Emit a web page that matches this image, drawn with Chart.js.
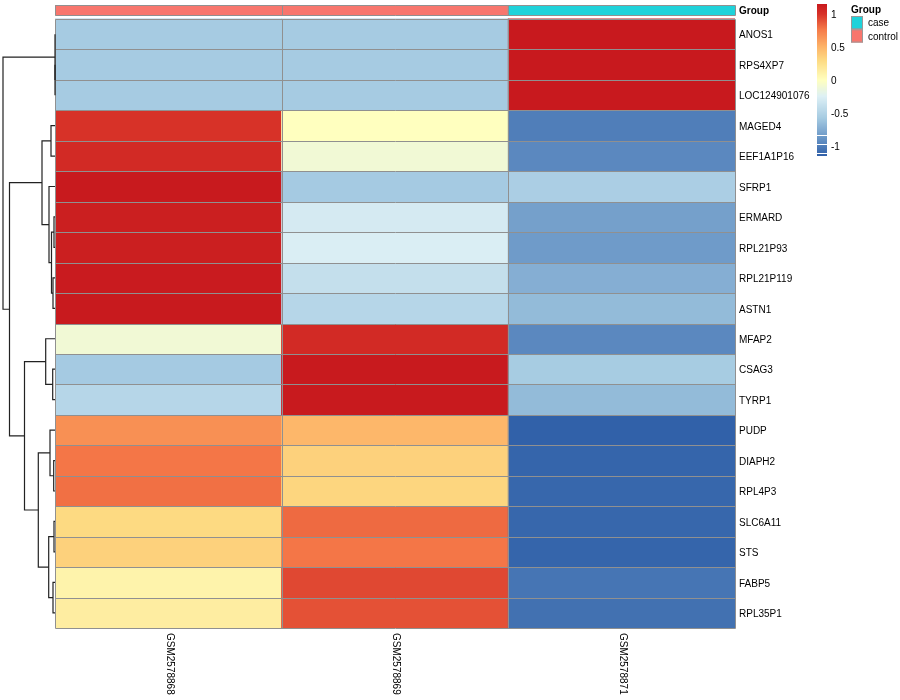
<!DOCTYPE html>
<html><head><meta charset="utf-8">
<script src="https://cdn.jsdelivr.net/npm/chart.js@4"></script>
<style>html,body{margin:0;padding:0;background:#fff}</style>
</head><body>
<canvas id="c" width="900" height="700"></canvas>
<script>
// ---------- data ----------
const genes = ['ANOS1','RPS4XP7','LOC124901076','MAGED4','EEF1A1P16','SFRP1','ERMARD','RPL21P93','RPL21P119','ASTN1','MFAP2','CSAG3','TYRP1','PUDP','DIAPH2','RPL4P3','SLC6A11','STS','FABP5','RPL35P1'];
const samples = ['GSM2578868','GSM2578869','GSM2578871'];
const sampleGroups = ['control','control','case'];
const groupLevels = ['case','control'];
const valsGSM2578868 = [-0.577,-0.577,-0.577, 1.00, 1.05, 1.15, 1.12, 1.12, 1.14, 1.15, -0.10,-0.58,-0.48, 0.665,0.78,0.80, 0.30,0.35, 0.10,0.15];
const valsGSM2578869 = [-0.577,-0.577,-0.577, 0.00,-0.10,-0.58,-0.30,-0.27,-0.40,-0.48, 1.05, 1.15, 1.15, 0.485,0.35,0.32, 0.82,0.78, 0.93,0.90];
const valsGSM2578871 = [ 1.155, 1.155, 1.155,-1.00,-0.95,-0.55,-0.82,-0.85,-0.74,-0.67,-0.95,-0.57,-0.67,-1.15,-1.13,-1.12,-1.12,-1.13,-1.05,-1.07];
const legendTicks = [1, 0.5, 0, -0.5, -1];
// hclust-style merges: negative = leaf (1-based row), positive = earlier merge (1-based); third = height
const dendroMerges = [
  [-2,-3,0],[-1,1,0],[-4,-5,4],[-7,-8,1],[-9,-10,2],[4,5,3.5],[-6,6,6],[3,7,13],
  [-12,-13,2.3],[-11,9,9.3],[-15,-16,1.3],[-14,11,5],[-17,-18,1],[-19,-20,2],
  [13,14,6.3],[12,15,16.7],[10,16,30.5],[8,17,45.5],[2,18,52]
];
const colorMin = -1.155, colorMax = 1.155;

// ---------- styles ----------
const colorStops = [
  [-1.155,[48,96,168]],[-0.9,[101,146,196]],[-0.577,[166,203,226]],[-0.25,[221,240,245]],
  [0,[255,255,191]],[0.3,[253,218,130]],[0.5,[253,180,104]],[0.77,[245,121,72]],
  [1.0,[215,50,40]],[1.155,[200,25,30]]
];
const groupColors = {control:'#F8766D', case:'#1FD2DA'};
function valColor(v){
  if (v <= colorStops[0][0]) return 'rgb('+colorStops[0][1].join(',')+')';
  for (let i=1;i<colorStops.length;i++){
    if (v <= colorStops[i][0]){
      const [a,ca]=colorStops[i-1],[b,cb]=colorStops[i];
      const t=(v-a)/(b-a);
      return 'rgb('+ca.map((x,k)=>Math.round(x+(cb[k]-x)*t)).join(',')+')';
    }
  }
  return 'rgb('+colorStops[colorStops.length-1][1].join(',')+')';
}
const FONT = '"Liberation Sans", Arial, Helvetica, sans-serif';
const GRID = '#909090';

const columns = [valsGSM2578868, valsGSM2578869, valsGSM2578871];
const datasets = genes.map((g,r)=>({
  label:g,
  data: samples.map(()=>[r, r+1]),
  backgroundColor: columns.map(col=>valColor(col[r])),
  borderWidth:0, grouped:false, barPercentage:1, categoryPercentage:1, inflateAmount:0.5
}));
datasets.push({
  label:'Group',
  data: samples.map(()=>[-0.46,-0.13]),
  backgroundColor: sampleGroups.map(g=>groupColors[g]),
  borderWidth:0, grouped:false, barPercentage:1, categoryPercentage:1, inflateAmount:0.5
});

const cellGrid = {
  id:'cellGrid',
  afterDatasetsDraw(chart){
    const ctx = chart.ctx, ys = chart.scales.y, xs = chart.scales.x;
    const snap = v => Math.round(v)+0.5;
    const colW = xs.getPixelForValue(1)-xs.getPixelForValue(0);
    const xb = [0,1,2,3].map(i=>snap(xs.getPixelForValue(0)-colW/2+i*colW));
    ctx.save(); ctx.strokeStyle=GRID; ctx.lineWidth=1;
    const box = (y0,y1)=>{
      ctx.beginPath();
      for (let r=0;r<=0;r++){}
      ctx.moveTo(xb[0],y0); ctx.lineTo(xb[3],y0); ctx.moveTo(xb[0],y1); ctx.lineTo(xb[3],y1);
      xb.forEach(x=>{ctx.moveTo(x,y0); ctx.lineTo(x,y1);});
      ctx.stroke();
    };
    box(snap(ys.getPixelForValue(-0.46)), snap(ys.getPixelForValue(-0.13)));
    const y0 = snap(ys.getPixelForValue(0)), y1 = snap(ys.getPixelForValue(genes.length));
    box(y0,y1);
    ctx.beginPath();
    for (let r=1;r<genes.length;r++){
      const y=snap(ys.getPixelForValue(r));
      ctx.moveTo(xb[0],y); ctx.lineTo(xb[3],y);
    }
    ctx.stroke();
    ctx.restore();
  }
};

const decor = {
  id:'decor',
  afterDraw(chart){
    const ctx = chart.ctx, ys = chart.scales.y, xs = chart.scales.x, ca = chart.chartArea;
    ctx.save();
    // dendrogram
    const maxH = Math.max(...dendroMerges.map(m=>m[2]));
    const hx = h => ca.left - h*(ca.left-3)/maxH;
    const nodes = [];
    const pos = id => id<0 ? {x:ca.left, y:ys.getPixelForValue(-id-1+0.5)} : nodes[id-1];
    ctx.strokeStyle='#222'; ctx.lineWidth=1.2;
    dendroMerges.forEach(m=>{
      const a=pos(m[0]), b=pos(m[1]), x=hx(m[2]);
      ctx.beginPath();
      ctx.moveTo(a.x, a.y); ctx.lineTo(x, a.y); ctx.lineTo(x, b.y); ctx.lineTo(b.x, b.y);
      ctx.stroke();
      nodes.push({x:x, y:(a.y+b.y)/2});
    });
    // row labels
    ctx.fillStyle='#000'; ctx.font='10px '+FONT; ctx.textBaseline='middle'; ctx.textAlign='left';
    genes.forEach((g,r)=>ctx.fillText(g, ca.right+4, ys.getPixelForValue(r+0.5)+1.5));
    ctx.font='bold 10px '+FONT;
    ctx.fillText('Group', ca.right+4, ys.getPixelForValue(-0.295)+1);
    // column labels
    ctx.font='10px '+FONT;
    samples.forEach((s,c)=>{
      ctx.save();
      ctx.translate(xs.getPixelForValue(c)+1, ca.bottom+5);
      ctx.rotate(Math.PI/2);
      ctx.textAlign='left'; ctx.textBaseline='middle';
      ctx.fillText(s, 0, 0);
      ctx.restore();
    });
    // colour legend
    const lx=817, lw=10, top=4, bot=156;
    const vToY = v => top + (colorMax - v)/(colorMax-colorMin)*(bot-top);
    for (let y=top; y<bot; y++){
      const v = colorMax - (y+0.5-top)/(bot-top)*(colorMax-colorMin);
      ctx.fillStyle=valColor(v); ctx.fillRect(lx, y, lw, 1);
    }
    ctx.fillStyle='#fff';
    [135,144,153].forEach(y=>ctx.fillRect(lx,y,lw,1));
    ctx.fillStyle='#000'; ctx.font='10px '+FONT; ctx.textAlign='left'; ctx.textBaseline='middle';
    legendTicks.forEach(t=>ctx.fillText(String(t), lx+lw+4, vToY(t)+1.5));
    // group legend
    ctx.font='bold 10px '+FONT;
    ctx.fillText('Group', 851, 10);
    ctx.font='10px '+FONT;
    groupLevels.forEach((g,i)=>{
      const y=16+i*13.3;
      ctx.fillStyle=groupColors[g]; ctx.fillRect(851, y, 12, 13.3);
      ctx.strokeStyle='#999'; ctx.lineWidth=1; ctx.strokeRect(851.5, y+0.5, 11, 12.3);
      ctx.fillStyle='#000'; ctx.fillText(g, 868, y+7.5);
    });
    ctx.restore();
  }
};

new Chart(document.getElementById('c'), {
  type:'bar',
  data:{labels:samples, datasets},
  options:{
    responsive:false, animation:false, devicePixelRatio:1,
    layout:{padding:{left:55,right:165,top:5,bottom:72}},
    scales:{
      x:{type:'category', display:false, offset:true},
      y:{type:'linear', display:false, min:-0.46, max:20, reverse:true}
    },
    plugins:{legend:{display:false}, tooltip:{enabled:false}}
  },
  plugins:[cellGrid, decor]
});
</script>
</body></html>
